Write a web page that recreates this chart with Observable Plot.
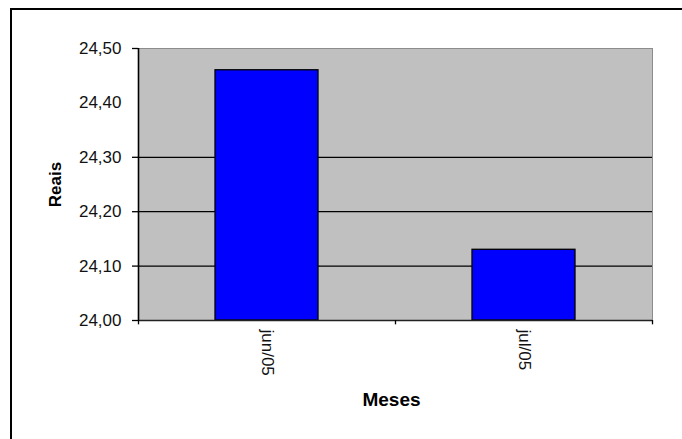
<!DOCTYPE html>
<html>
<head>
<meta charset="utf-8">
<script src="https://cdn.jsdelivr.net/npm/d3@7"></script>
<script src="https://cdn.jsdelivr.net/npm/@observablehq/plot@0.6"></script>
<style>
  html, body { margin: 0; padding: 0; background: #fff; overflow: hidden; }
  #wrap { position: relative; width: 682px; height: 439px; }
  #wrap svg { position: absolute; left: 0; top: 0; }
  /* chart-area border; the right and bottom edges sit past the window */
  #border { position: absolute; left: 10px; top: 8px; width: 720px; height: 480px;
            border: 2px solid #000; pointer-events: none; }
</style>
</head>
<body>
<div id="wrap"><div id="border"></div></div>
<script>
// Preço médio mensal, em reais
const months = ["jun/05", "jul/05"];
const reais = [24.46, 24.13];
const yTicks = [24.0, 24.1, 24.2, 24.3, 24.4, 24.5];
const yTickMarks = [24.0, 24.1, 24.2, 24.3, 24.5];
const gridLines = [24.1, 24.2, 24.3];

const data = months.map((m, i) => ({month: m, value: reais[i]}));

const W = 682, H = 439;
const mL = 138, mR = 30, mT = 48, mB = 119;
// one band per month; boundaries sit half a step from each band's centre
const step = (W - mL - mR) / months.length;

const fmt = d => d.toFixed(2).replace(".", ",");

const chart = Plot.plot({
  width: W,
  height: H,
  marginLeft: mL,
  marginRight: mR,
  marginTop: mT,
  marginBottom: mB,
  style: {fontFamily: "'Liberation Sans', Arial, sans-serif", background: "transparent", color: "#000", overflow: "visible"},
  x: {domain: months, paddingInner: 0.6, paddingOuter: 0.3, axis: null},
  y: {domain: [24, 24.5], axis: null},
  marks: [
    Plot.frame({fill: "#c0c0c0", stroke: "#8c8c8c"}),
    Plot.ruleY(gridLines, {stroke: "#000", strokeWidth: 1.3}),
    Plot.barY(data, {x: "month", y1: 24, y2: "value", fill: "#0000ff", stroke: "#000", strokeWidth: 1.3}),
    // axis lines
    Plot.ruleY([24], {stroke: "#222", strokeWidth: 1.6}),
    Plot.ruleX([months[0]], {y1: 24, y2: 24.5, dx: -step / 2, stroke: "#000", strokeWidth: 1.6}),
    // category boundary ticks below the x axis
    Plot.ruleX(months, {y1: 24, y2: 23.992, dx: -step / 2, stroke: "#000", strokeWidth: 1.3}),
    Plot.ruleX([months[months.length - 1]], {y1: 24, y2: 23.992, dx: step / 2, stroke: "#000", strokeWidth: 1.3}),
    // y tick marks (no text) and labels
    Plot.axisY({ticks: yTickMarks, tickSize: 6, tickFormat: () => "", label: null, strokeWidth: 1.3}),
    Plot.axisY({ticks: yTicks, tickSize: 0, tickPadding: 17, tickFormat: fmt, label: null, fontSize: 17, fill: "#111"}),
    // month labels, rotated to read downward
    Plot.axisX({tickSize: 0, tickPadding: 9, tickRotate: 90, label: null, fontSize: 17, fill: "#111"}),
    // axis titles
    Plot.text(["Reais"], {frameAnchor: "left", textAnchor: "middle", lineAnchor: "middle", dx: -83, rotate: -90, fontSize: 17, fontWeight: "bold", fill: "#000"}),
    Plot.text(["Meses"], {frameAnchor: "bottom", textAnchor: "middle", lineAnchor: "middle", dx: -4, dy: 79, fontSize: 19, fontWeight: "bold", fill: "#000"})
  ]
});

document.getElementById("wrap").prepend(chart);
</script>
</body>
</html>
